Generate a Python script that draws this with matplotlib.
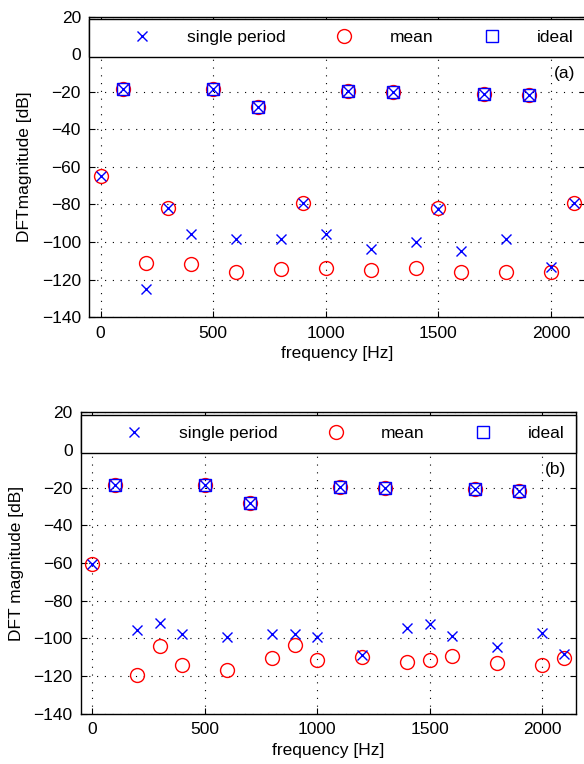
import matplotlib
matplotlib.use('Agg')
import matplotlib.pyplot as plt

plt.rcParams['font.family'] = ['Liberation Sans', 'DejaVu Sans']
plt.rcParams['font.size'] = 12.5

# harmonic frequencies [Hz]
freq = [0, 100, 200, 300, 400, 500, 600, 700, 800, 900, 1000,
        1100, 1200, 1300, 1400, 1500, 1600, 1700, 1800, 1900, 2000, 2100]

# ideal spectrum lines only exist at these harmonics
ideal_freq = [100, 500, 700, 1100, 1300, 1700, 1900]

# panel (a)
single_a = [-64.7, -18.8, -124.8, -82.1, -95.9, -18.8, -98.2, -28.0, -98.2, -79.2, -95.7,
            -19.5, -103.9, -20.2, -100.1, -82.6, -104.9, -21.2, -98.5, -21.8, -113.1, -79.4]
mean_a = [-64.7, -18.6, -111.0, -81.7, -111.7, -18.8, -115.7, -28.0, -114.5, -79.2, -113.6,
          -19.5, -115.0, -20.2, -113.6, -81.7, -115.7, -21.2, -115.9, -22.0, -115.9, -79.4]
ideal_a = [-18.7, -18.8, -28.0, -19.5, -20.2, -21.2, -21.9]

# panel (b)
single_b = [-60.4, -18.8, -95.8, -91.9, -97.9, -18.8, -99.3, -28.1, -97.9, -97.9, -99.3,
            -19.8, -108.7, -20.0, -94.7, -92.2, -98.8, -20.9, -104.4, -21.8, -97.0, -108.5]
mean_b = [-60.4, -18.8, -119.7, -104.1, -114.2, -18.8, -116.8, -28.1, -110.6, -103.7, -111.5,
          -19.8, -109.7, -20.0, -112.6, -111.5, -109.6, -20.9, -112.9, -21.8, -114.0, -110.3]
ideal_b = [-18.8, -18.8, -28.1, -19.8, -20.0, -20.9, -21.8]

xticks = [0, 500, 1000, 1500, 2000]
yticks = list(range(-140, 21, 20))


def draw_panel(ax, single, mean, ideal, ylabel, tag):
    h_single, = ax.plot(freq, single, 'x', color='b', markersize=7, mew=1.0,
                        label='single period', zorder=4)
    h_mean, = ax.plot(freq, mean, 'o', color='r', mfc='none', markersize=10, mew=1.0,
                      label='mean', zorder=2)
    h_ideal, = ax.plot(ideal_freq, ideal, 's', color='b', mfc='none', markersize=8, mew=1.0,
                       label='ideal', zorder=3)

    ax.set_xlim(-50, 2150)
    ax.set_ylim(-140, 20)
    ax.set_xticks(xticks)
    ax.set_yticks(yticks)
    ax.grid(True, color='k', linestyle=(0, (1, 6)), linewidth=0.8)
    ax.tick_params(direction='in', top=True, right=True, length=4, width=0.8, pad=6)
    for sp in ax.spines.values():
        sp.set_linewidth(1.0)
    ax.set_xlabel('frequency [Hz]', labelpad=4)
    ax.set_ylabel(ylabel, labelpad=7)

    # legend box sits in the strip above 0 dB and spans the full axes width
    leg = ax.legend(handles=[h_single, h_mean, h_ideal], ncol=3, mode='expand',
                    loc='upper left', bbox_to_anchor=(0, 0.855, 1, 0.1365),
                    borderaxespad=0, borderpad=0.65, handlelength=4.8,
                    handletextpad=0.2, numpoints=1, fancybox=False,
                    edgecolor='k', framealpha=1)
    leg.get_frame().set_linewidth(1.0)
    leg.set_zorder(10)

    ax.text(0.96, 0.81, tag, transform=ax.transAxes, ha='center', va='center')


fig = plt.figure(figsize=(5.84, 7.64), dpi=100)
ax1 = fig.add_axes([0.1529, 0.5847, 0.8486, 0.3937])
ax2 = fig.add_axes([0.1387, 0.0658, 0.8471, 0.3945])

draw_panel(ax1, single_a, mean_a, ideal_a, 'DFTmagnitude [dB]', '(a)')
draw_panel(ax2, single_b, mean_b, ideal_b, 'DFT magnitude [dB]', '(b)')

fig.savefig('out.png', dpi=100)
